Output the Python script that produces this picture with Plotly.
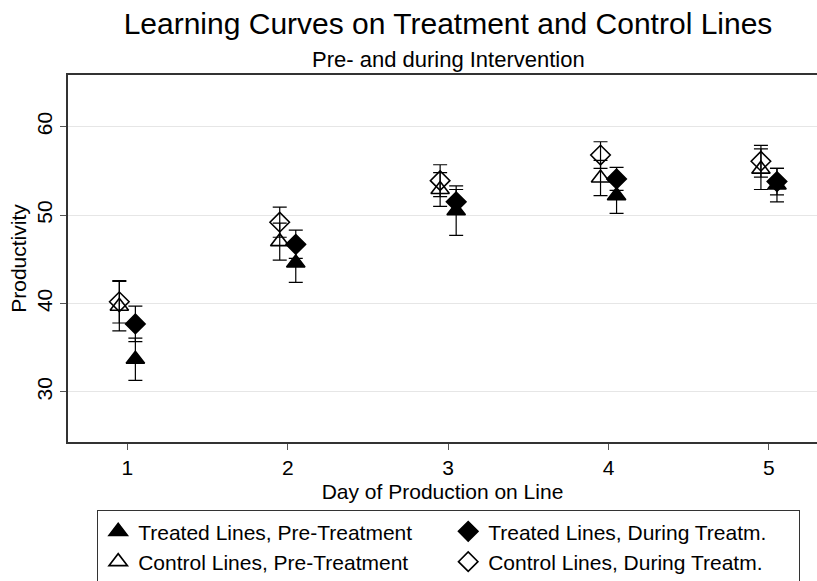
import plotly.graph_objects as go

days = [1, 2, 3, 4, 5]

treated_pre = [33.7, 44.6, 50.5, 52.2, 53.4]
treated_pre_err = [2.4, 2.2, 2.8, 2.0, 1.9]

treated_during = [37.7, 46.7, 51.5, 54.1, 53.8]
treated_during_err = [2.0, 1.6, 1.4, 1.3, 1.5]

control_pre = [39.7, 47.0, 52.9, 54.2, 55.2]
control_pre_err = [2.8, 2.1, 1.9, 2.0, 2.3]

control_during = [40.2, 49.2, 53.9, 56.8, 56.1]
control_during_err = [2.4, 1.7, 1.8, 1.5, 1.8]

names = ["Treated Lines, Pre-Treatment", "Treated Lines, During Treatm.",
         "Control Lines, Pre-Treatment", "Control Lines, During Treatm."]

FONT = "Liberation Sans, Arial, Helvetica, sans-serif"

fig = go.Figure()

def add(vals, errs, name, symbol, offset, size):
    fig.add_trace(go.Scatter(
        x=[d + offset for d in days], y=vals, mode="markers", name=name,
        marker=dict(symbol=symbol, size=size, color="black",
                    line=dict(color="black", width=1.6)),
        error_y=dict(type="data", array=errs, visible=True, color="black",
                     thickness=1.2, width=7),
        cliponaxis=False,
    ))

add(treated_pre, treated_pre_err, names[0], "triangle-up", 0.05, 16)
add(treated_during, treated_during_err, names[1], "diamond", 0.05, 15)
add(control_pre, control_pre_err, names[2], "triangle-up-open", -0.05, 16)
add(control_during, control_during_err, names[3], "diamond-open", -0.05, 15)

fig.update_layout(
    width=817, height=581,
    margin=dict(l=68, r=0, t=75, b=139),
    paper_bgcolor="white", plot_bgcolor="white",
    font=dict(family=FONT, color="black", size=21),
    title=dict(text="Learning Curves on Treatment and Control Lines",
               x=(68 + 828) / 2 / 817, xanchor="center", y=1 - 23 / 581, yanchor="middle",
               font=dict(size=30, family=FONT, color="black")),
    annotations=[dict(text="Pre- and during Intervention", xref="paper", yref="paper",
                      x=(448 - 68) / 749, y=1 + (75 - 60) / 367, xanchor="center", yanchor="middle",
                      showarrow=False, font=dict(size=22, family=FONT, color="black"))],
    showlegend=True,
    legend=dict(orientation="h", xref="container", yref="container",
                x=97 / 817, y=1 - 510 / 581, xanchor="left", yanchor="top",
                entrywidth=305, entrywidthmode="pixels",
                bordercolor="#333", borderwidth=1.2,
                font=dict(size=21, family=FONT, color="black"),
                traceorder="normal"),
)

fig.update_xaxes(
    range=[0.63, 0.63 + 749 / 160.4], tickvals=days, ticktext=[str(d) for d in days],
    ticks="outside", ticklen=6, tickcolor="#555", tickwidth=1,
    showline=True, linecolor="#333", linewidth=2, mirror=True,
    showgrid=False, zeroline=False,
    title=dict(text="Day of Production on Line", standoff=6, font=dict(size=21)),
    tickfont=dict(size=21),
)
fig.update_yaxes(
    range=[24.34, 65.85], tickvals=[30, 40, 50, 60],
    ticks="outside", ticklen=6, tickcolor="#555", tickwidth=1, tickangle=-90,
    showline=True, linecolor="#333", linewidth=2,
    showgrid=True, gridcolor="#e6e6e6", gridwidth=1, zeroline=False,
    title=dict(text="Productivity", standoff=0, font=dict(size=21)),
    tickfont=dict(size=21),
)

fig.write_html("out.html")
